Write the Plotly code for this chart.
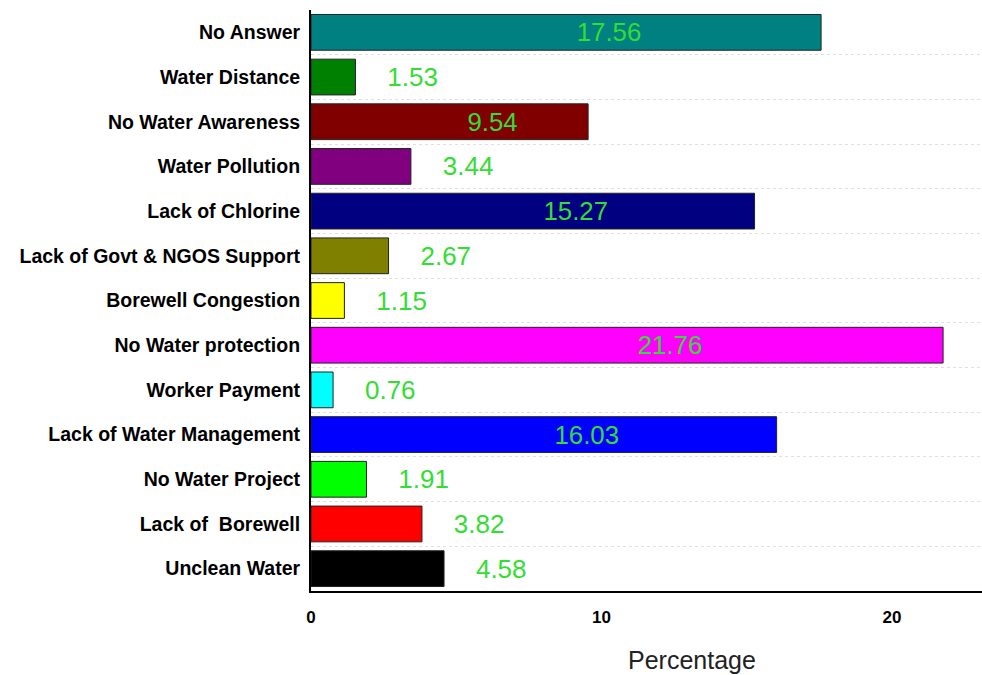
import plotly.graph_objects as go

categories = ["No Answer", "Water Distance", "No Water Awareness", "Water Pollution",
              "Lack of Chlorine", "Lack of Govt & NGOS Support", "Borewell Congestion",
              "No Water protection", "Worker Payment", "Lack of Water Management",
              "No Water Project", "Lack of  Borewell", "Unclean Water"]
values = [17.56, 1.53, 9.54, 3.44, 15.27, 2.67, 1.15, 21.76, 0.76, 16.03, 1.91, 3.82, 4.58]
colors = ["#008080", "#008000", "#800000", "#800080", "#000080", "#808000", "#ffff00",
          "#ff00ff", "#00ffff", "#0000ff", "#00ff00", "#ff0000", "#000000"]

label_color = "#33dd33"
inside = [v >= 9 for v in values]
texts = ["\u00a0" * 12 + f"{v:.2f}" if ins else "\u00a0" * 4 + f"{v:.2f}"
         for v, ins in zip(values, inside)]
positions = ["inside" if ins else "outside" for ins in inside]

fig = go.Figure(go.Bar(
    x=values, y=categories, orientation="h",
    marker=dict(color=colors, line=dict(color="#222222", width=1)),
    width=0.8,
    text=texts, textposition=positions, insidetextanchor="middle",
    textfont=dict(family="Liberation Sans, Arial", size=26, color=label_color),
    cliponaxis=False,
))

fig.update_layout(
    width=982, height=675,
    margin=dict(l=311, r=0, t=10, b=84),
    paper_bgcolor="white", plot_bgcolor="white",
    showlegend=False,
    xaxis=dict(range=[0, 23.1], tickvals=[0, 10, 20], showgrid=False, zeroline=False,
               showline=True, linecolor="black", linewidth=2, ticks="",
               ticklabelstandoff=10,
               tickfont=dict(family="Liberation Sans, Arial", size=17, color="black", weight="bold")),
    yaxis=dict(autorange="reversed", type="category", tickson="boundaries",
               showgrid=True, gridcolor="#e0e0e0", griddash="dot", gridwidth=1,
               showline=True, linecolor="black", linewidth=2, ticks="",
               ticklabelstandoff=5,
               tickfont=dict(family="Liberation Sans, Arial", size=19.5, color="black", weight="bold")),
    annotations=[dict(text="Percentage", xref="paper", yref="paper", x=0.568, y=-0.119,
                      xanchor="center", yanchor="middle", showarrow=False,
                      font=dict(family="Liberation Sans, Arial", size=25, color="#222222"))],
)

fig.write_html("out.html")
